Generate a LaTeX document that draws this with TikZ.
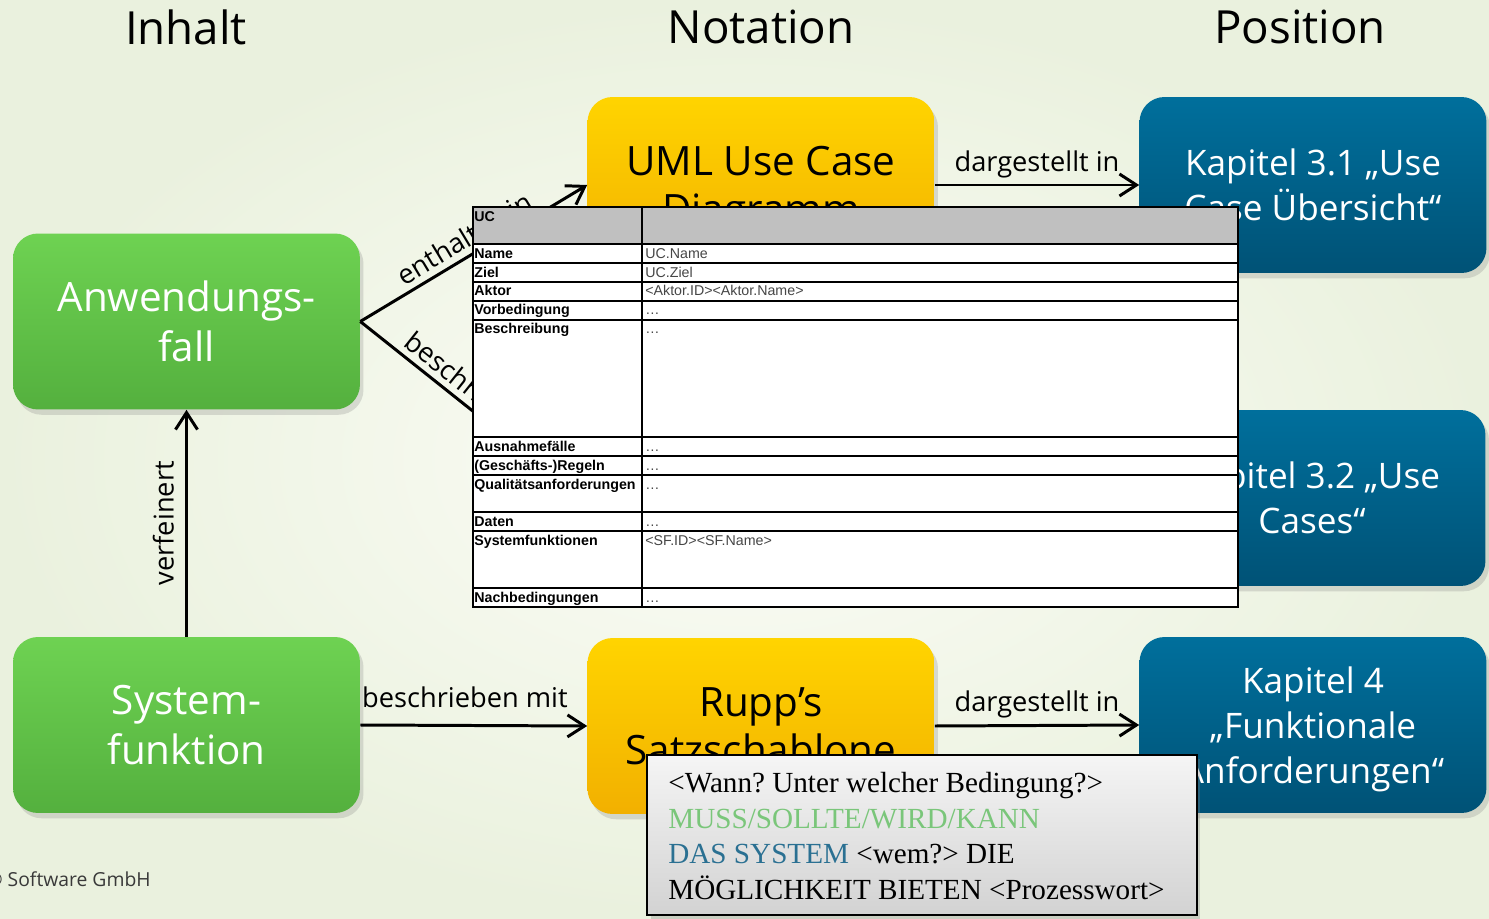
\documentclass[tikz,border=0pt]{standalone}
\usepackage{fontspec}
\setmainfont{Open Sans}
\newfontfamily\tabfont{Liberation Sans}
\newfontfamily\satzfont{Liberation Serif}
\usetikzlibrary{arrows.meta,shadows}

\definecolor{bgin}{RGB}{252,253,247}
\definecolor{bgout}{RGB}{234,241,222}
\definecolor{greentop}{RGB}{110,210,82}
\definecolor{greenbot}{RGB}{84,176,62}
\definecolor{yellowtop}{RGB}{255,212,0}
\definecolor{yellowbot}{RGB}{242,176,0}
\definecolor{bluetop}{RGB}{0,111,156}
\definecolor{bluebot}{RGB}{0,82,118}
\definecolor{mussgreen}{RGB}{122,198,122}
\definecolor{sysblue}{RGB}{42,112,146}
\definecolor{cellgray}{RGB}{192,192,192}
\definecolor{valgray}{RGB}{70,70,70}

\begin{document}
\begin{tikzpicture}[x=0.02cm, y=-0.02cm,
    box/.style={rounded corners=0.5cm, minimum width=6.94cm, minimum height=3.52cm, align=center, text=white, inner sep=0pt, text depth=0pt,
      drop shadow={opacity=0.25, shadow xshift=2pt, shadow yshift=-3pt}},
    inhaltbox/.style={box, top color=greentop, bottom color=greenbot, font=\fontsize{23}{28.5}\selectfont},
    notationbox/.style={box, top color=yellowtop, bottom color=yellowbot, text=black, font=\fontsize{23}{27.5}\selectfont},
    positionbox/.style={box, top color=bluetop, bottom color=bluebot, font=\fontsize{20}{25.5}\selectfont},
    head/.style={font=\fontsize{26}{30}\selectfont},
    lab/.style={font=\fontsize{15.5}{18}\selectfont},
    arr/.style={line width=1.7pt, -{Straight Barb[length=3.4mm,width=4.4mm]}},
    tabline/.style={line width=1.1pt},
    tabkey/.style={anchor=base west, inner sep=0pt, font=\tabfont\bfseries\fontsize{8.1}{9}\selectfont},
    tabval/.style={anchor=base west, inner sep=0pt, text=valgray, font=\tabfont\fontsize{8.1}{9}\selectfont}]

  % Hintergrund
  \useasboundingbox (0,0) rectangle (1489,919);
  \shade[inner color=bgin, outer color=bgout] (0,0) rectangle (1489,919);

  % Spalten
  \node[head] (hinhalt) at (186,27) {Inhalt};
  \node[head] (hnotation) at (761,27) {Notation};
  \node[head] (hposition) at (1300,27) {Position};

  % Nodes
  \node[inhaltbox] (uc) at (186.5,321.5) {Anwendungs-\\fall};
  \node[inhaltbox] (sf) at (186.5,725) {System-\\funktion};
  \node[notationbox] (uml) at (761,185) {UML Use Case\\Diagramm};
  \node[notationbox] (rupp) at (761,726) {Rupp’s\\Satzschablone};
  \node[positionbox] (k31) at (1313,185) {Kapitel 3.1 „Use\\Case Übersicht“};
  \node[positionbox] (k32) at (1312,498) {Kapitel 3.2 „Use\\Cases“};
  \node[positionbox] (k4) at (1313,725) {Kapitel 4\\„Funktionale\\Anforderungen“};
  \coordinate (knick) at (582,498);

  \node[anchor=east, inner sep=0pt, text=gray!45!black, font=\fontsize{11}{13}\selectfont] (copy) at (151,879) {© Software GmbH};

  % Kanten
  \draw[arr] (sf.north) -- (uc.south) node[lab, midway, sloped, above=3pt] (lverf) {verfeinert};
  \draw[arr] (sf.east) -- (rupp.west) node[lab, midway, above=6pt, xshift=-5] (lbmit) {beschrieben mit};
  \draw[arr] (rupp.east) -- (k4.west) node[lab, midway, above] (ldar2) {dargestellt in};
  \draw[arr] (uml.east) -- (k31.west) node[lab, midway, above] (ldar1) {dargestellt in};
  \draw[arr] (uc.east) -- (uml.west) node[lab, midway, sloped, above] (lenth) {enthalten in};
  \draw[arr] (uc.east) -- (knick) node[lab, midway, sloped, above] (lbin) {beschrieben in} -- (k32.west);

  % Use-Case-Schablone
  \fill[white] (473,207) rectangle (1238,607);
  \fill[cellgray] (473,207) rectangle (1238,244);
  \foreach \yy in {244,263,282,301,320,437,456,475,512,531,588}
    \draw[tabline] (473,\yy) -- (1238,\yy);
  \draw[tabline] (642,207) -- (642,607);
  \draw[tabline] (473,207) rectangle (1238,607);
  \node[tabkey] (ucKopf) at (474,221) {UC};
  \foreach \yy/\key/\val [count=\i] in {244/Name/UC.Name, 263/Ziel/UC.Ziel, 282/Aktor/<Aktor.ID><Aktor.Name>,
      301/Vorbedingung/\dots, 320/Beschreibung/\dots, 437/Ausnahmefälle/\dots, 456/(Geschäfts-)Regeln/\dots,
      475/Qualitätsanforderungen/\dots, 512/Daten/\dots, 531/Systemfunktionen/<SF.ID><SF.Name>, 588/Nachbedingungen/\dots}
  {
    \node[tabkey] (key\i) at (474,\yy+14) {\key};
    \node[tabval] (val\i) at (645,\yy+14) {\val};
  }

  % Satzschablone
  \node[draw=black, line width=1.2pt, top color=gray!8, bottom color=gray!35, minimum width=11cm, minimum height=3.2cm,
    drop shadow={opacity=0.3, shadow xshift=2pt, shadow yshift=-2pt}] (satz) at (922,835) {};
  \node[anchor=west, inner sep=0pt, align=left, font=\satzfont\frenchspacing\fontsize{16.6}{20.2}\selectfont] (satztext) at (668,836)
    {<Wann? Unter welcher Bedingung?>\\
     \textcolor{mussgreen}{MUSS/SOLLTE/WIRD/KANN}\\
     \textcolor{sysblue}{DAS SYSTEM} <wem?> DIE\\
     MÖGLICHKEIT BIETEN <Prozesswort>};
\end{tikzpicture}
\end{document}
